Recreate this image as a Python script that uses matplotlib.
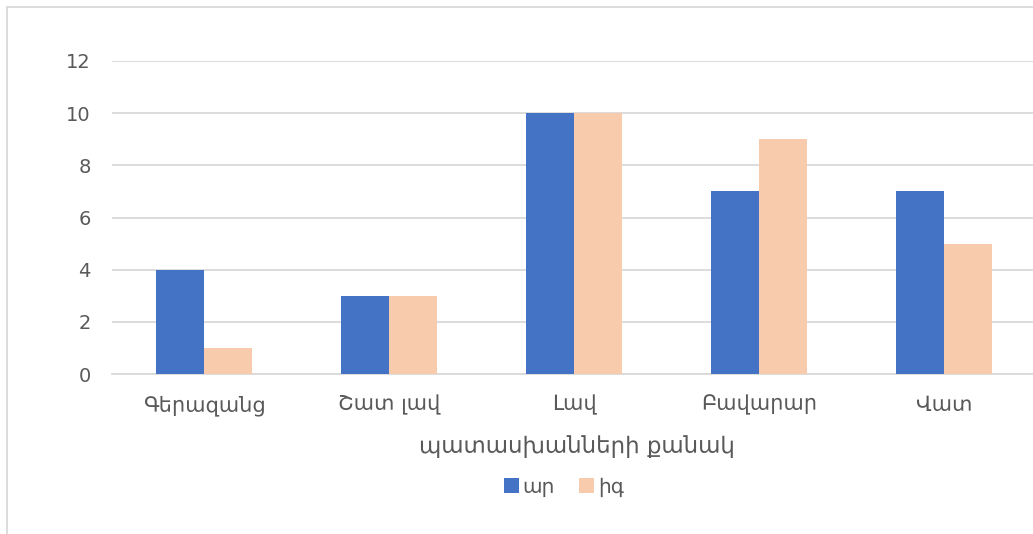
import matplotlib.pyplot as plt
from matplotlib.patches import Rectangle
import numpy as np

categories = ["Գերազանց", "Շատ լավ", "Լավ", "Բավարար", "Վատ"]
ar_values = [4, 3, 10, 7, 7]
ig_values = [1, 3, 10, 9, 5]
series_names = ["ար", "իգ"]
y_ticks = [0, 2, 4, 6, 8, 10, 12]

plt.rcParams['font.family'] = ['DejaVu Sans']
text_col = "#595959"
grid_col = "#d9d9d9"

fig = plt.figure(figsize=(10.33, 5.34), dpi=100)
ax = fig.add_axes([111.5 / 1033, 1 - 374 / 534, 925 / 1033, 313 / 534])

x = np.arange(len(categories))
w = 0.26
ax.bar(x - w / 2, ar_values, w, color="#4472C4", label=series_names[0], zorder=3)
ax.bar(x + w / 2, ig_values, w, color="#F8CBAD", label=series_names[1], zorder=3)

ax.set_xlim(-0.5, len(categories) - 0.5)
ax.set_ylim(0, 12)
ax.set_yticks(y_ticks)
ax.set_xticks(x)
ax.set_xticklabels(categories)
ax.yaxis.grid(True, color=grid_col, linewidth=1.3, zorder=0)
ax.tick_params(axis="both", length=0, colors=text_col)
ax.tick_params(axis="x", pad=15, labelsize=15)
ax.tick_params(axis="y", pad=15, labelsize=14)
for s in ["top", "right", "left"]:
    ax.spines[s].set_visible(False)
ax.spines["bottom"].set_color(grid_col)
ax.spines["bottom"].set_linewidth(1.3)

fig.text(577 / 1033, 1 - 447 / 534, "պատասխանների քանակ",
         ha="center", va="center", fontsize=16.5, color=text_col)

ax.legend(loc="center", bbox_to_anchor=(564 / 1033, 1 - 487 / 534), bbox_transform=fig.transFigure,
          ncol=2, frameon=False, fontsize=14.5, handlelength=0.75, handleheight=0.75,
          handletextpad=0.2, columnspacing=1.2, labelcolor=text_col)

fig.patches.append(Rectangle((7 / 1033, -0.01), 1.02, 1 - 7 / 534 + 0.01, transform=fig.transFigure,
                             fill=False, edgecolor=grid_col, linewidth=1.3))

fig.savefig("out.png", dpi=100)
